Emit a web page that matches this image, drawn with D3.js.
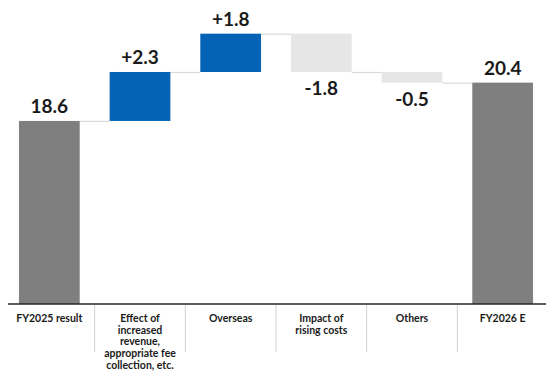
<!DOCTYPE html>
<html>
<head>
<meta charset="utf-8">
<script src="https://cdn.jsdelivr.net/npm/d3@7"></script>
<style>
  body { margin: 0; background: #fff; }
  text { font-family: Lato, "Open Sans", sans-serif; font-weight: bold; fill: #1a1a1a; }
</style>
</head>
<body>
<script>
// waterfall data
const categories = ["FY2025 result", "Effect", "Overseas", "Impact", "Others", "FY2026 E"];
const catLines = [
  ["FY2025 result"],
  ["Effect of", "increased", "revenue,", "appropriate fee", "collection, etc."],
  ["Overseas"],
  ["Impact of", "rising costs"],
  ["Others"],
  ["FY2026 E"]
];
const values = [18.6, 2.3, 1.8, -1.8, -0.5, 20.4];
const kinds = ["total", "delta", "delta", "delta", "delta", "total"];
const valueLabels = ["18.6", "+2.3", "+1.8", "-1.8", "-0.5", "20.4"];

const width = 546, height = 371;
const axisY = 304;

// running totals
let run = 0;
const rows = values.map(function (v, i) {
  let start, end;
  if (kinds[i] === "total") { start = 10; end = v; run = v; }
  else { start = run; end = run + v; run = end; }
  return { cat: categories[i], v: v, kind: kinds[i], start: start, end: end, label: valueLabels[i], lines: catLines[i] };
});

const x = d3.scaleBand()
  .domain(categories)
  .range([4, 548])
  .paddingInner(0.33)
  .paddingOuter(0.165);

const y = d3.scaleLinear()
  .domain([10, 24])
  .range([axisY, 6]);

const svg = d3.select("body").append("svg")
  .attr("width", width)
  .attr("height", height);

const step = x.step();

// connectors
svg.selectAll("line.conn")
  .data(rows.slice(0, -1))
  .enter().append("line")
  .attr("class", "conn")
  .attr("x1", function (d) { return x(d.cat) + x.bandwidth(); })
  .attr("x2", function (d, i) { return x(categories[i + 1]); })
  .attr("y1", function (d) { return y(d.end) + 0.5; })
  .attr("y2", function (d) { return y(d.end) + 0.5; })
  .attr("stroke", "#d9d9d9")
  .attr("stroke-width", 1.2);

// bars
svg.selectAll("rect.bar")
  .data(rows)
  .enter().append("rect")
  .attr("class", "bar")
  .attr("x", function (d) { return x(d.cat); })
  .attr("width", x.bandwidth())
  .attr("y", function (d) { return y(Math.max(d.start, d.end)); })
  .attr("height", function (d) { return Math.abs(y(d.start) - y(d.end)); })
  .attr("fill", function (d) {
    if (d.kind === "total") return "#7f7f7f";
    return d.v > 0 ? "#0563b5" : "#e6e6e6";
  });

// value labels
svg.selectAll("text.val")
  .data(rows)
  .enter().append("text")
  .attr("class", "val")
  .attr("x", function (d) { return x(d.cat) + x.bandwidth() / 2; })
  .attr("y", function (d) {
    if (d.v >= 0) return y(Math.max(d.start, d.end)) - 8;
    return y(Math.min(d.start, d.end)) + 23;
  })
  .attr("text-anchor", "middle")
  .style("font-size", "19px")
  .text(function (d) { return d.label; });

// axis line
svg.append("line")
  .attr("x1", 8).attr("x2", width)
  .attr("y1", axisY).attr("y2", axisY)
  .attr("stroke", "#262626")
  .attr("stroke-width", 1.5);

// separators between categories
svg.selectAll("line.tick")
  .data(categories)
  .enter().append("line")
  .attr("class", "tick")
  .attr("x1", function (d) { return x(d) + x.bandwidth() + (step - x.bandwidth()) / 2; })
  .attr("x2", function (d) { return x(d) + x.bandwidth() + (step - x.bandwidth()) / 2; })
  .attr("y1", axisY + 1)
  .attr("y2", 352)
  .attr("stroke", "#d0d0d0")
  .attr("stroke-width", 1);

// category labels
const cl = svg.selectAll("text.cat")
  .data(rows)
  .enter().append("text")
  .attr("class", "cat")
  .attr("text-anchor", "middle")
  .style("font-size", "10.5px");

cl.selectAll("tspan")
  .data(function (d) {
    return d.lines.map(function (l) { return { l: l, cx: x(d.cat) + x.bandwidth() / 2 }; });
  })
  .enter().append("tspan")
  .attr("x", function (d) { return d.cx; })
  .attr("y", function (d, i) { return 322 + i * 11.7; })
  .text(function (d) { return d.l; });
</script>
</body>
</html>
